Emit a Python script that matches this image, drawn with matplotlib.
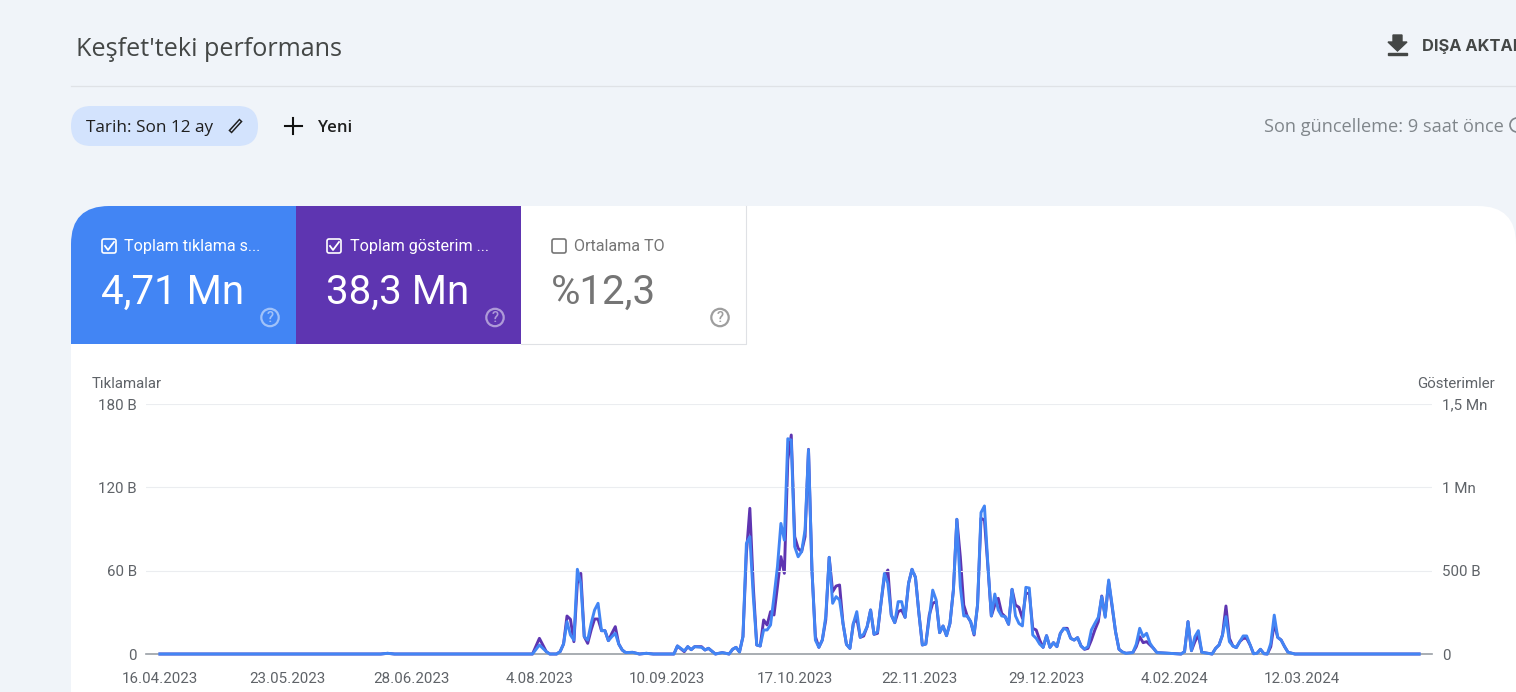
import matplotlib
matplotlib.use("Agg")
import matplotlib.pyplot as plt
from matplotlib.patches import FancyBboxPatch, Rectangle, Circle, Polygon

# days since 16.04.2023, clicks (B, left axis), impressions (B, right axis)
days = [0, 64, 66, 68, 108, 110, 112, 113, 115, 116, 117, 118, 119, 120, 121, 122, 123, 124, 125, 126, 127,
        128, 129, 130, 131, 132, 133, 134, 135, 137, 139, 141, 143, 149, 150, 152, 153, 154, 155, 157, 158,
        159, 161, 163, 165, 166, 167, 168, 169, 170, 171, 172, 173, 174, 175, 176, 177, 178, 179, 180, 181,
        182, 183, 184, 185, 186, 187, 188, 189, 190, 191, 192, 193, 194, 195, 196, 197, 198, 199, 200, 201,
        202, 203, 204, 205, 206, 207, 208, 209, 210, 211, 212, 213, 214, 215, 216, 217, 218, 219, 220, 221,
        222, 223, 224, 225, 226, 227, 228, 229, 230, 231, 232, 233, 234, 235, 236, 237, 238, 239, 240, 241,
        242, 243, 244, 245, 246, 247, 248, 249, 250, 251, 252, 253, 254, 255, 256, 257, 258, 259, 260, 261,
        262, 263, 264, 265, 266, 267, 268, 269, 270, 271, 272, 273, 274, 275, 276, 277, 278, 279, 280, 282,
        283, 284, 285, 286, 287, 288, 289, 296, 297, 298, 299, 300, 301, 302, 305, 306, 307, 308, 309, 310,
        311, 312, 313, 314, 315, 316, 317, 318, 319, 320, 321, 322, 323, 324, 325, 326, 327, 329, 365]
clicks = [0, 0, .5, 0, 0, 6.5, 1.7, 0, 0, 1.7, 7.2, 23.3, 13.7, 10, 61, 50.9, 12.5, 10, 22, 31.7, 36.5,
          16.8, 16.8, 9.6, 12.5, 14.9, 7.2, 2.9, 1, 1.2, 0, .5, 0, 0, 5.8, 2.2, 5.3, 3.1, 5.3, 4.8, 2.9,
          4.1, 0, 1, 0, 3.4, 4.8, 1.4, 12.5, 79.7, 84.5, 41.3, 6.5, 5.8, 17.3, 17.3, 20.9, 41.3, 62.9, 94, 82,
          155, 154, 77.3, 70, 73.7, 89.3, 147, 60.5, 10, 4.8, 10, 27, 69.6, 36.5, 41.3, 38.9, 22, 7, 4, 22,
          30.5, 12, 14.4, 19.7, 31.7, 14.2, 16, 36.5, 58, 50.9, 28, 22.6, 37.7, 37.7, 26.4, 50.9, 61, 55.2, 29.3, 6.5,
          7.2, 25.7, 46, 38.9, 15.4, 20.2, 13.2, 22, 46, 97, 48.5, 27.4, 27.4, 23.3, 14.4, 35.3, 101.8, 106.6, 64, 27.4,
          43.2, 31.7, 27.4, 26.9, 21.4, 46.6, 27.4, 22, 20.2, 48, 47.5, 13.7, 11.3, 7.2, 4.8, 13.2, 4.8, 8.2, 5.3, 14.9,
          18.5, 17.3, 11.3, 10, 11.8, 5.8, 3.6, 5.3, 17.3, 22, 26.4, 41.3, 26.4, 53.3, 35.3, 16, 3.4, 1.4, .5, 1,
          7, 18.5, 12.5, 14.9, 7.7, 4, 1, 0, 1.7, 23.3, 2.4, 12.5, 16.8, 1.2, 0, 4, 6.5, 13.7, 26.9, 8.9,
          5.8, 4.6, 8.9, 13, 13, 6.5, .2, .5, 3.4, .2, 0, 7.7, 28, 12, 10, 5.3, 1.2, 0, 0]
impressions = [0, 0, 4, 0, 0, 94, 14, 0, 0, 14, 60, 228, 208, 74, 424, 484, 104, 64, 144, 210, 210,
               140, 140, 80, 124, 164, 60, 24, 8, 10, 0, 4, 0, 0, 48, 14, 44, 26, 44, 44, 24,
               34, 0, 8, 0, 28, 40, 12, 104, 604, 874, 404, 54, 48, 204, 174, 254, 234, 404, 584, 484,
               1164, 1314, 704, 634, 614, 704, 1228, 504, 104, 40, 84, 204, 580, 374, 408, 414, 184, 58, 34, 184,
               214, 100, 108, 164, 264, 118, 124, 304, 464, 504, 234, 188, 254, 264, 220, 424, 508, 460, 244, 54,
               60, 234, 304, 314, 128, 168, 110, 184, 384, 808, 584, 294, 228, 194, 114, 294, 814, 804, 524, 228,
               294, 334, 244, 224, 178, 388, 294, 280, 214, 364, 364, 154, 144, 84, 40, 110, 40, 68, 44, 124,
               154, 154, 94, 84, 98, 48, 28, 34, 84, 144, 194, 348, 228, 434, 284, 134, 28, 12, 4, 8,
               44, 104, 68, 74, 54, 34, 8, 0, 14, 194, 20, 74, 114, 10, 0, 34, 54, 114, 288, 94,
               48, 38, 74, 94, 94, 54, 2, 4, 28, 2, 0, 44, 184, 100, 84, 44, 10, 0, 0]

tick_days = [0, 37, 73, 110, 147, 184, 220, 257, 294, 331]
tick_labels = ["16.04.2023", "23.05.2023", "28.06.2023", "4.08.2023", "10.09.2023",
               "17.10.2023", "22.11.2023", "29.12.2023", "4.02.2024", "12.03.2024"]
left_ticks = [0, 60, 120, 180]
left_labels = ["0", "60 B", "120 B", "180 B"]
right_ticks = [0, 500, 1000, 1500]
right_labels = ["0", "500 B", "1 Mn", "1,5 Mn"]

BG = "#f0f4f9"
BLUE = "#4285f4"
PURPLE = "#5e35b1"
GRAY = "#5f6368"

plt.rcParams["font.family"] = "Roboto"
W, H = 1516, 692
fig = plt.figure(figsize=(W / 100, H / 100), dpi=100, facecolor=BG)

# page furniture, in pixels
ui = fig.add_axes([0, 0, 1, 1])
ui.set_xlim(0, W)
ui.set_ylim(H, 0)
ui.axis("off")

ui.text(76, 49, "Keşfet'teki performans", fontsize=18.1, color="#444746", va="center", family="Open Sans")
ui.plot([71, W], [85.5, 85.5], color="#dfe2e6", lw=0.9)
ui.text(1422, 46.5, "DIŞA AKTAR", fontsize=11.8, color="#444746", va="center", weight="bold", family="Inter")
ui.add_patch(Polygon([(1393, 35), (1402, 35), (1402, 42), (1407, 42), (1397.5, 51), (1388, 42), (1393, 42)], color="#444746"))
ui.add_patch(Rectangle((1388, 52.5), 19, 2.2, color="#444746"))

ui.add_patch(FancyBboxPatch((71, 106), 187, 40, boxstyle="round,pad=0,rounding_size=20", fc="#d3e3fd", ec="none"))
ui.text(86, 127.5, "Tarih: Son 12 ay", fontsize=12.3, color="#1f1f1f", va="center", family="Open Sans")
ui.plot([230, 241], [132, 120], color="#1f1f1f", lw=3.2, solid_capstyle="butt")
ui.plot([231, 240], [131, 121], color="#d3e3fd", lw=1, solid_capstyle="butt")
ui.plot([293, 293], [118, 134], color="#111111", lw=1.5)
ui.plot([285, 302], [126, 126], color="#111111", lw=1.5)
ui.text(318.5, 127.5, "Yeni", fontsize=12.2, color="#1f1f1f", va="center", family="Open Sans", weight="semibold")
ui.text(1264.5, 126.5, "Son güncelleme: 9 saat önce", fontsize=13.1, color="#80868b", va="center", family="Open Sans")
ui.add_patch(Circle((1517, 125), 7, fc="none", ec="#80868b", lw=1.2))

# white panel with the metric cards clipped to its round corner
panel = FancyBboxPatch((71, 206), W - 71, 700, boxstyle="round,pad=0,rounding_size=38", fc="white", ec="none")
ui.add_patch(panel)
for x0, col in [(71, BLUE), (296, PURPLE)]:
    card = Rectangle((x0, 206), 225, 138, fc=col, ec="none")
    ui.add_patch(card)
    card.set_clip_path(panel)
ui.plot([521, 745.5, 745.5], [343.5, 343.5, 206], color="#dfe1e5", lw=0.8)

cards = [(101, "Toplam tıklama s...", "4,71 Mn", "white", True),
         (326, "Toplam gösterim ...", "38,3 Mn", "white", True),
         (551, "Ortalama TO", "%12,3", "#757575", False)]
for x0, label, value, col, checked in cards:
    ui.add_patch(FancyBboxPatch((x0 + 1, 239), 14, 14, boxstyle="round,pad=0,rounding_size=2",
                                fc="none", ec=col, lw=1.2))
    if checked:
        ui.plot([x0 + 4, x0 + 7, x0 + 13], [246, 250, 242], color=col, lw=1.3)
    ui.text(x0 + 23.5, 246.5, label, fontsize=11.6, color=col, va="center")
    ui.text(x0, 292, value, fontsize=29, color=col, va="center")
    ring = "white" if checked else "#757575"
    ui.add_patch(Circle((x0 + 169, 317.5), 8.7, fc="none", ec=ring, lw=1.6, alpha=0.5 if checked else 0.7))
    ui.text(x0 + 169, 318, "?", fontsize=10.5, color=ring, ha="center", va="center", weight="medium",
            alpha=0.5 if checked else 0.7)

ui.text(92, 384, "Tıklamalar", fontsize=10.8, color=GRAY, va="center")
ui.text(1495, 384, "Gösterimler", fontsize=10.8, color=GRAY, va="center", ha="right")

# chart
px_left, px_right, px_top, px_bottom = 146, 1432, 404, 654
x_origin = 159.9  # pixel of 16.04.2023
ax = fig.add_axes([px_left / W, 1 - px_bottom / H, (px_right - px_left) / W, (px_bottom - px_top) / H])
ax.patch.set_alpha(0)
ax.set_xlim((px_left - x_origin) / 3.45, (px_right - x_origin) / 3.45)
ax.set_ylim(0, 180)
ax2 = ax.twinx()
ax2.set_ylim(0, 1500)

ax2.plot(days, impressions, color=PURPLE, lw=2.1, solid_joinstyle="round", clip_on=False, zorder=3)
ax.set_zorder(ax2.get_zorder() + 1)
ax.plot(days, clicks, color=BLUE, lw=2.1, solid_joinstyle="round", clip_on=False, zorder=3)

ax.set_yticks(left_ticks, left_labels)
ax2.set_yticks(right_ticks, right_labels)
ax.set_xticks(tick_days, tick_labels)
ax.grid(axis="y", color="#ebedf0", lw=0.8)
ax.set_axisbelow(True)
for a in (ax, ax2):
    for s in ("top", "left", "right", "bottom"):
        a.spines[s].set_visible(False)
    a.tick_params(length=0, labelsize=10.9, labelcolor=GRAY)
ax.tick_params(axis="y", pad=6.5)
ax2.tick_params(axis="y", pad=7)
ax.tick_params(axis="x", pad=13)
ax.axhline(0, color="#9aa0a6", lw=1.2, zorder=2, clip_on=False)

fig.savefig("out.png", dpi=100, facecolor=BG)
